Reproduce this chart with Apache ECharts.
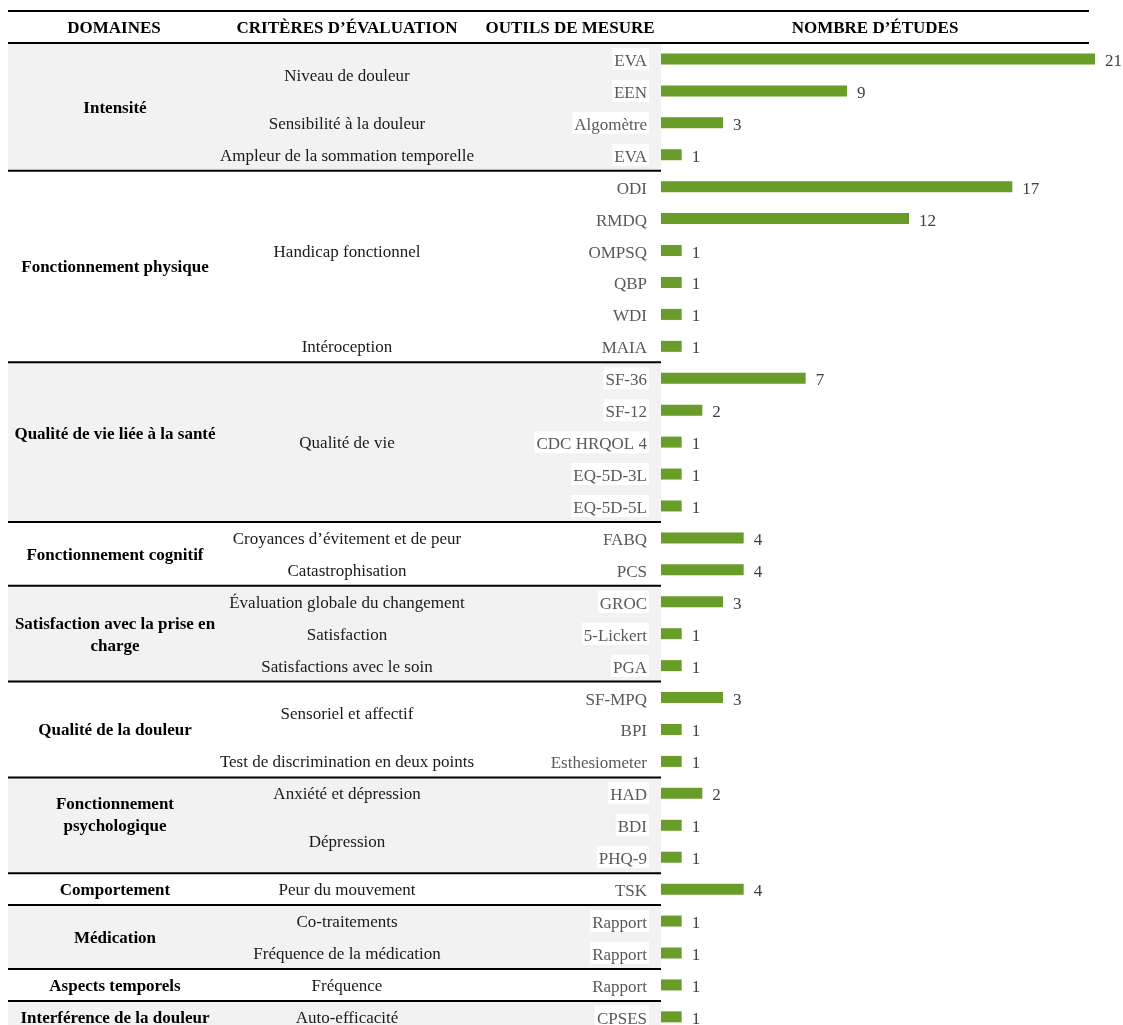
<!DOCTYPE html>
<html>
<head>
<meta charset="utf-8">
<script src="https://cdn.jsdelivr.net/npm/echarts@6/dist/echarts.min.js"></script>
<style>
  html, body { margin: 0; padding: 0; background: #fff; overflow: hidden; }
  #chart { width: 1123px; height: 1045px; }
</style>
</head>
<body>
<div id="chart"></div>
<script>
// outils de mesure (une ligne par barre)
const tools = [
  'EVA', 'EEN', 'Algomètre', 'EVA',
  'ODI', 'RMDQ', 'OMPSQ', 'QBP', 'WDI', 'MAIA',
  'SF-36', 'SF-12', 'CDC HRQOL 4', 'EQ-5D-3L', 'EQ-5D-5L',
  'FABQ', 'PCS',
  'GROC', '5-Lickert', 'PGA',
  'SF-MPQ', 'BPI', 'Esthesiometer',
  'HAD', 'BDI', 'PHQ-9',
  'TSK',
  'Rapport', 'Rapport',
  'Rapport',
  'CPSES'
]

// nombre d'études
const studies = [
  21, 9, 3, 1,
  17, 12, 1, 1, 1, 1,
  7, 2, 1, 1, 1,
  4, 4,
  3, 1, 1,
  3, 1, 1,
  2, 1, 1,
  4,
  1, 1,
  1,
  1
]

// critères d'évaluation et nombre de lignes couvertes
const criteria = [
  'Niveau de douleur', 'Sensibilité à la douleur', 'Ampleur de la sommation temporelle',
  'Handicap fonctionnel', 'Intéroception',
  'Qualité de vie',
  'Croyances d’évitement et de peur', 'Catastrophisation',
  'Évaluation globale du changement', 'Satisfaction', 'Satisfactions avec le soin',
  'Sensoriel et affectif', 'Test de discrimination en deux points',
  'Anxiété et dépression', 'Dépression',
  'Peur du mouvement',
  'Co-traitements', 'Fréquence de la médication',
  'Fréquence',
  'Auto-efficacité'
]
const criteriaSpan = [2, 1, 1, 5, 1, 5, 1, 1, 1, 1, 1, 2, 1, 1, 2, 1, 1, 1, 1, 1]

// domaines et nombre de lignes couvertes
const domains = [
  'Intensité',
  'Fonctionnement physique',
  'Qualité de vie liée à la santé',
  'Fonctionnement cognitif',
  'Satisfaction avec la prise en\ncharge',
  'Qualité de la douleur',
  'Fonctionnement\npsychologique',
  'Comportement',
  'Médication',
  'Aspects temporels',
  'Interférence de la douleur'
]
const domainSpan = [4, 6, 5, 2, 3, 3, 3, 1, 2, 1, 1]

const headers = ['DOMAINES', 'CRITÈRES D’ÉVALUATION', 'OUTILS DE MESURE', 'NOMBRE D’ÉTUDES']

const FONT = '"Liberation Serif", "Times New Roman", serif'
const ROW_H = 31.93
const TOP = 43
const TABLE_LEFT = 8
const TABLE_RIGHT = 661
const TXT_DY = 1.5
// petits décalages verticaux des libellés de domaine (comme dans l'original)
const domainNudge = { 2: -9, 6: -11 }

const chart = echarts.init(document.getElementById('chart'), null, { renderer: 'canvas' })

chart.setOption({
  animation: false,
  backgroundColor: '#fff',
  grid: {
    left: TABLE_RIGHT,
    top: TOP,
    width: 434,
    height: ROW_H * tools.length,
    containLabel: false
  },
  xAxis: {
    type: 'value',
    min: 0,
    max: 21,
    show: false
  },
  yAxis: {
    type: 'category',
    inverse: true,
    data: tools,
    axisLine: { show: false },
    axisTick: { show: false },
    splitLine: { show: false },
    axisLabel: {
      interval: 0,
      margin: 12,
      fontFamily: FONT,
      fontSize: 17,
      color: '#595959',
      formatter: (v, i) => `{t|${tools[i]}}`,
      rich: {
        t: {
          color: '#595959',
          fontFamily: FONT,
          fontSize: 17,
          backgroundColor: '#fff',
          padding: [5, 2, 0, 2]
        }
      }
    },
    z: 5
  },
  series: [
    {
      type: 'bar',
      data: studies,
      barWidth: 11,
      itemStyle: { color: '#6a9c2a' },
      label: {
        show: true,
        position: 'right',
        distance: 10,
        formatter: '{v|{c}}',
        rich: {
          v: {
            color: '#404040',
            fontFamily: FONT,
            fontSize: 17,
            padding: [5, 0, 0, 0]
          }
        }
      }
    }
  ]
})

// repères en pixels pour le tableau
const rowY = (i) => chart.convertToPixel({ yAxisIndex: 0 }, i)
const edgeY = (k) => TOP + k * ROW_H
const graphics = []

// bandes grises alternées et séparateurs
let start = 0
domains.forEach((d, di) => {
  const end = start + domainSpan[di]
  if (di % 2 === 0) {
    graphics.push({
      type: 'rect',
      z: -10,
      shape: { x: TABLE_LEFT, y: edgeY(start), width: TABLE_RIGHT - TABLE_LEFT, height: edgeY(end) - edgeY(start) },
      style: { fill: '#f2f2f2' }
    })
  }
  graphics.push({
    type: 'text',
    style: {
      text: d,
      x: 115,
      y: (rowY(start) + rowY(end - 1)) / 2 + TXT_DY + (domainNudge[di] || 0),
      textAlign: 'center',
      textVerticalAlign: 'middle',
      fontFamily: FONT,
      fontWeight: 'bold',
      fontSize: 17,
      lineHeight: 22,
      fill: '#000'
    }
  })
  if (end < tools.length) {
    graphics.push({
      type: 'line',
      z: 10,
      shape: { x1: TABLE_LEFT, y1: edgeY(end), x2: TABLE_RIGHT, y2: edgeY(end) },
      style: { stroke: '#000', lineWidth: 2 }
    })
  }
  start = end
})

// critères
start = 0
criteria.forEach((c, ci) => {
  const end = start + criteriaSpan[ci]
  graphics.push({
    type: 'text',
    style: {
      text: c,
      x: 347,
      y: (rowY(start) + rowY(end - 1)) / 2 + TXT_DY,
      textAlign: 'center',
      textVerticalAlign: 'middle',
      fontFamily: FONT,
      fontSize: 17,
      fill: '#1a1a1a'
    }
  })
  start = end
})

// en-têtes
const headerX = [114, 347, 570, 875]
headers.forEach((h, i) => {
  graphics.push({
    type: 'text',
    style: {
      text: h,
      x: headerX[i],
      y: 29,
      textAlign: 'center',
      textVerticalAlign: 'middle',
      fontFamily: FONT,
      fontWeight: 'bold',
      fontSize: 17,
      fill: '#000'
    }
  })
})
graphics.push(
  { type: 'line', shape: { x1: TABLE_LEFT, y1: 11, x2: 1089, y2: 11 }, style: { stroke: '#000', lineWidth: 1.8 } },
  { type: 'line', shape: { x1: TABLE_LEFT, y1: 43, x2: 1089, y2: 43 }, style: { stroke: '#000', lineWidth: 2 } }
)

chart.setOption({ graphic: graphics })
</script>
</body>
</html>
